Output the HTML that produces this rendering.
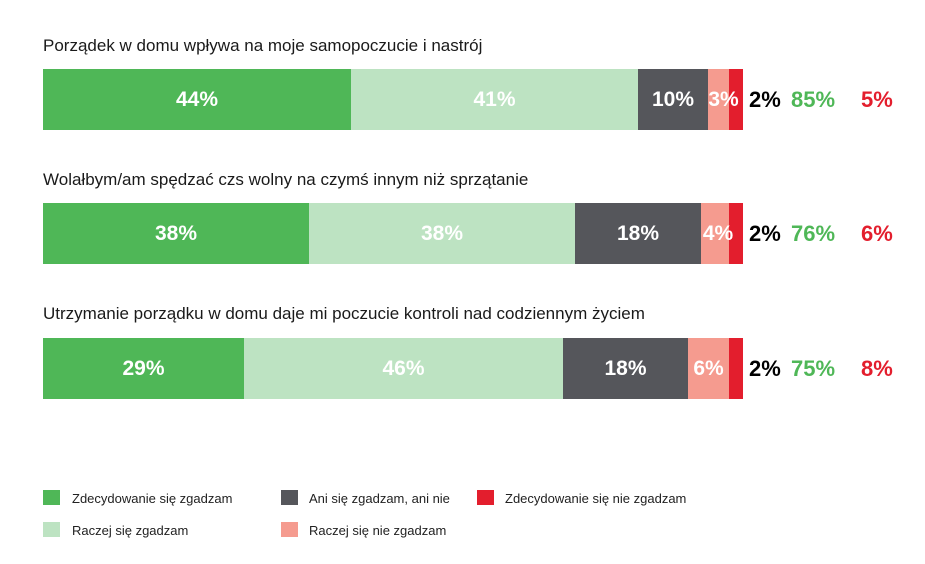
<!DOCTYPE html>
<html><head><meta charset="utf-8"><style>
body{margin:0;width:925px;height:564px;background:#fff;font-family:"Liberation Sans",sans-serif;position:relative;overflow:hidden}
.t{position:absolute;left:43px;font-size:17px;color:#1a1a1a}
.s{position:absolute;height:61px;color:#fff;font-weight:bold;font-size:21px;display:flex;align-items:center;justify-content:center;white-space:nowrap;overflow:visible}
.n{position:absolute;font-weight:bold;font-size:22px;height:61px;display:flex;align-items:center}
.g1{background:#4fb757}.g2{background:#bde3c2}.d{background:#55565b}.p{background:#f59b8f}.r{background:#e31e2d}
.lg{position:absolute;width:17px;height:15px}
.lt{position:absolute;font-size:13px;color:#222}
</style></head><body>
<div class="t" style="top:36px">Porządek w domu wpływa na moje samopoczucie i nastrój</div>
<div class="t" style="top:170px">Wolałbym/am spędzać czs wolny na czymś innym niż sprzątanie</div>
<div class="t" style="top:304px">Utrzymanie porządku w domu daje mi poczucie kontroli nad codziennym życiem</div>

<div class="s g1" style="top:69px;left:43px;width:308px">44%</div>
<div class="s g2" style="top:69px;left:351px;width:287px">41%</div>
<div class="s d" style="top:69px;left:638px;width:70px">10%</div>
<div class="s r" style="top:69px;left:729px;width:14px"></div>
<div class="s p" style="top:69px;left:708px;width:21px"><span style="position:relative;left:5px">3%</span></div>
<div class="n" style="top:69px;left:749px;color:#000">2%</div>
<div class="n" style="top:69px;left:791px;color:#4fb757">85%</div>
<div class="n" style="top:69px;left:861px;color:#e31e2d">5%</div>

<div class="s g1" style="top:203px;left:43px;width:266px">38%</div>
<div class="s g2" style="top:203px;left:309px;width:266px">38%</div>
<div class="s d" style="top:203px;left:575px;width:126px">18%</div>
<div class="s r" style="top:203px;left:729px;width:14px"></div>
<div class="s p" style="top:203px;left:701px;width:28px"><span style="position:relative;left:3px">4%</span></div>
<div class="n" style="top:203px;left:749px;color:#000">2%</div>
<div class="n" style="top:203px;left:791px;color:#4fb757">76%</div>
<div class="n" style="top:203px;left:861px;color:#e31e2d">6%</div>

<div class="s g1" style="top:338px;left:43px;width:201px">29%</div>
<div class="s g2" style="top:338px;left:244px;width:319px">46%</div>
<div class="s d" style="top:338px;left:563px;width:125px">18%</div>
<div class="s p" style="top:338px;left:688px;width:41px">6%</div>
<div class="s r" style="top:338px;left:729px;width:14px"></div>
<div class="n" style="top:338px;left:749px;color:#000">2%</div>
<div class="n" style="top:338px;left:791px;color:#4fb757">75%</div>
<div class="n" style="top:338px;left:861px;color:#e31e2d">8%</div>

<div class="lg g1" style="left:43px;top:490px"></div><div class="lt" style="left:72px;top:491px">Zdecydowanie się zgadzam</div>
<div class="lg g2" style="left:43px;top:522px"></div><div class="lt" style="left:72px;top:523px">Raczej się zgadzam</div>
<div class="lg d" style="left:281px;top:490px"></div><div class="lt" style="left:309px;top:491px">Ani się zgadzam, ani nie</div>
<div class="lg p" style="left:281px;top:522px"></div><div class="lt" style="left:309px;top:523px">Raczej się nie zgadzam</div>
<div class="lg r" style="left:477px;top:490px"></div><div class="lt" style="left:505px;top:491px">Zdecydowanie się nie zgadzam</div>
</body></html>
